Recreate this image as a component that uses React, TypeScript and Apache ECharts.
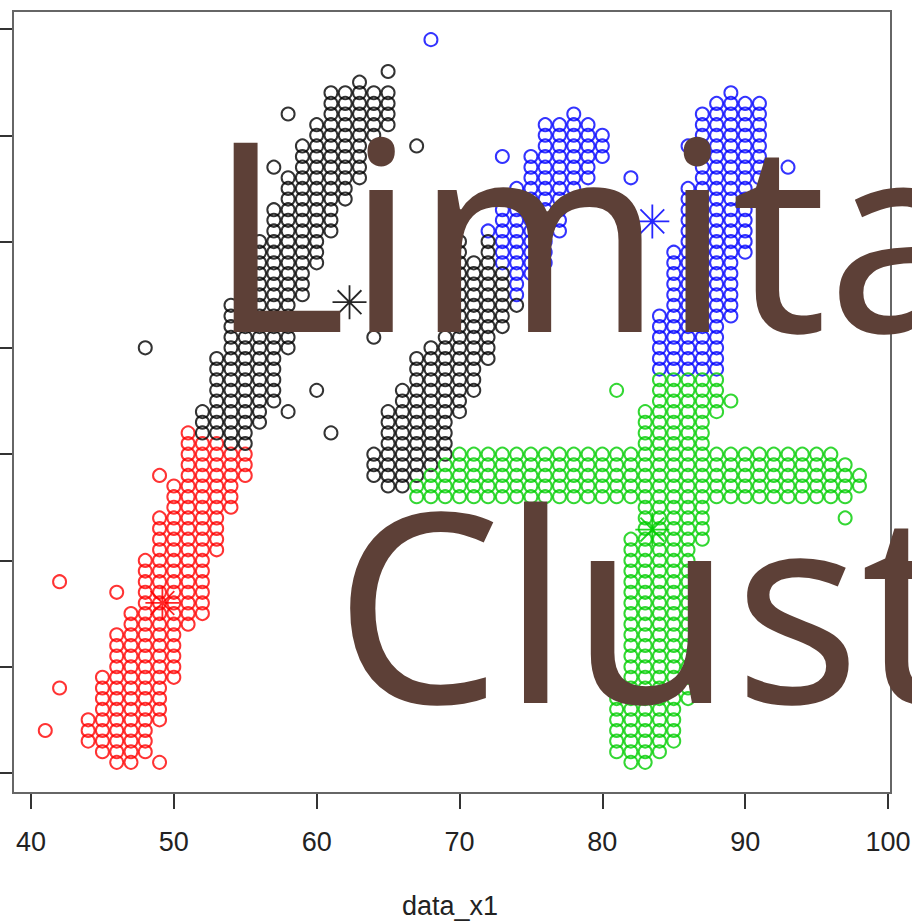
import React, { useEffect, useRef } from "react";
import * as echarts from "echarts";

// Each run is [x, lowest y, highest y]: one vertical column of points.
type Run = [number, number, number];

const xTicks = [40, 50, 60, 70, 80, 90, 100];
const xTitle = "data_x1";
const titleLines = ["Limita", "Clust"];

const redRuns: Run[] = [
  [41, 34, 34], [42, 38, 38], [42, 48, 48], [44, 33, 35], [45, 32, 39], [46, 31, 43], [46, 47, 47],
  [47, 31, 45], [48, 32, 50], [49, 31, 31], [49, 35, 54], [49, 58, 58], [50, 39, 57], [51, 44, 62],
  [52, 45, 61], [53, 51, 61], [54, 55, 60], [55, 58, 60],
];

const blackRuns: Run[] = [
  [48, 70, 70], [52, 62, 64], [53, 62, 69], [54, 61, 74], [55, 61, 76], [56, 63, 80], [57, 65, 83],
  [57, 87, 87], [58, 64, 64], [58, 70, 86], [58, 92, 92], [59, 75, 89], [60, 66, 66], [60, 78, 91],
  [61, 62, 62], [61, 81, 94], [62, 84, 94], [63, 86, 95], [64, 71, 71], [64, 90, 94], [65, 91, 94],
  [65, 96, 96], [67, 89, 89],
  [64, 58, 60], [65, 57, 64], [66, 57, 66], [67, 58, 69], [68, 59, 70], [69, 60, 71], [70, 64, 80],
  [71, 66, 78], [72, 69, 80], [73, 72, 77], [74, 74, 74],
];

const blueRuns: Run[] = [
  [68, 99, 99], [72, 81, 81], [73, 78, 83], [73, 88, 88], [74, 75, 85], [75, 77, 88], [76, 78, 91],
  [77, 81, 91], [78, 84, 92], [79, 86, 91], [80, 88, 90], [82, 86, 86], [84, 68, 73], [85, 68, 79],
  [86, 68, 85], [86, 89, 89], [87, 68, 92], [88, 68, 93], [89, 73, 94], [90, 79, 93], [91, 86, 93],
  [93, 87, 87],
];

const greenRuns: Run[] = [
  [67, 56, 57], [68, 56, 58], [69, 56, 59], [70, 56, 60], [71, 56, 60], [72, 56, 60], [73, 56, 60],
  [74, 56, 60], [75, 56, 60], [76, 56, 60], [77, 56, 60], [78, 56, 60], [79, 56, 60], [80, 56, 60],
  [81, 32, 37], [81, 56, 60], [81, 66, 66], [82, 31, 52], [82, 56, 60], [83, 31, 64], [84, 32, 67],
  [85, 33, 67], [86, 37, 67], [87, 52, 67], [88, 56, 60], [88, 64, 67], [89, 56, 60], [89, 65, 65],
  [90, 56, 60], [91, 56, 60], [92, 56, 60], [93, 56, 60], [94, 56, 60], [95, 56, 60], [96, 56, 60],
  [97, 54, 54], [97, 56, 59], [98, 57, 58],
];

const centerRed = [49.2, 46];
const centerBlack = [62.3, 74.3];
const centerBlue = [83.5, 81.9];
const centerGreen = [83.5, 52.9];

const STAR =
  "path://M10 0L10 20M0 10L20 10M3 3L17 17M17 3L3 17";

function expand(runs: Run[]): number[][] {
  const pts: number[][] = [];
  for (const [x, lo, hi] of runs) {
    for (let y = lo; y <= hi; y++) pts.push([x, y]);
  }
  return pts;
}

function ringSeries(runs: Run[], color: string, z: number) {
  return {
    type: "scatter",
    data: expand(runs),
    symbol: "circle",
    symbolSize: 13,
    clip: false,
    silent: true,
    z,
    itemStyle: { color: "transparent", borderColor: color, borderWidth: 2, opacity: 0.8 },
  };
}

function starSeries(center: number[], color: string) {
  return {
    type: "scatter",
    data: [center],
    symbol: STAR,
    symbolSize: 34,
    clip: false,
    silent: true,
    z: 10,
    itemStyle: { color: "transparent", borderColor: color, borderWidth: 1.8, opacity: 0.85 },
  };
}

export default function App() {
  const ref = useRef<HTMLDivElement>(null);
  useEffect(() => {
    if (!ref.current) return;
    document.body.style.margin = "0";
    const chart = echarts.init(ref.current, undefined, { renderer: "svg" });
    chart.setOption({
      animation: false,
      backgroundColor: "#ffffff",
      grid: { left: 31, right: 24, top: 29, bottom: 148, containLabel: false, outerBoundsMode: "none" },
      xAxis: {
        type: "value",
        min: 40,
        max: 100,
        interval: 10,
        offset: 20,
        position: "bottom",
        name: xTitle,
        nameLocation: "center",
        nameGap: 99,
        nameTextStyle: { fontFamily: "Liberation Sans", fontSize: 27, color: "#222", padding: [0, 19, 0, 0] },
        axisLine: { show: true, onZero: false, lineStyle: { color: "#333", width: 2 } },
        axisTick: { show: true, length: 16, lineStyle: { color: "#333", width: 2 } },
        axisLabel: {
          show: true,
          margin: 35,
          fontFamily: "Liberation Sans",
          fontSize: 27,
          color: "#222",
          formatter: (v: number) => (xTicks.includes(v) ? String(v) : ""),
        },
        splitLine: { show: false },
      },
      yAxis: {
        type: "value",
        min: 30,
        max: 100,
        interval: 10,
        offset: 18,
        position: "left",
        axisLine: { show: true, onZero: false, lineStyle: { color: "#333", width: 2 } },
        axisTick: { show: true, length: 14, lineStyle: { color: "#333", width: 2 } },
        axisLabel: { show: false },
        splitLine: { show: false },
      },
      graphic: [
        {
          type: "rect",
          z: 1,
          shape: { x: 13, y: 11, width: 878, height: 782 },
          style: { fill: "none", stroke: "#666", lineWidth: 2 },
          silent: true,
        },
        {
          type: "text",
          z: 100,
          x: 208,
          y: 97,
          silent: true,
          style: {
            text: titleLines[0],
            fontFamily: "Noto Sans",
            fontSize: 265,
            fill: "#5d4037",
            textAlign: "left",
            verticalAlign: "top",
          },
        },
        {
          type: "text",
          z: 100,
          x: 334,
          y: 468,
          silent: true,
          style: {
            text: titleLines[1],
            fontFamily: "Noto Sans",
            fontSize: 265,
            fill: "#5d4037",
            textAlign: "left",
            verticalAlign: "top",
          },
        },
      ],
      series: [
        ringSeries(blueRuns, "#0000ff", 2),
        ringSeries(redRuns, "#ff0000", 3),
        ringSeries(blackRuns, "#000000", 4),
        ringSeries(greenRuns, "#00cd00", 5),
        starSeries(centerRed, "#ff0000"),
        starSeries(centerBlack, "#000000"),
        starSeries(centerBlue, "#0000ff"),
        starSeries(centerGreen, "#00cd00"),
      ],
    });
    return () => chart.dispose();
  }, []);
  return <div ref={ref} style={{ position: "absolute", left: 0, top: 0, width: 912, height: 921 }} />;
}
